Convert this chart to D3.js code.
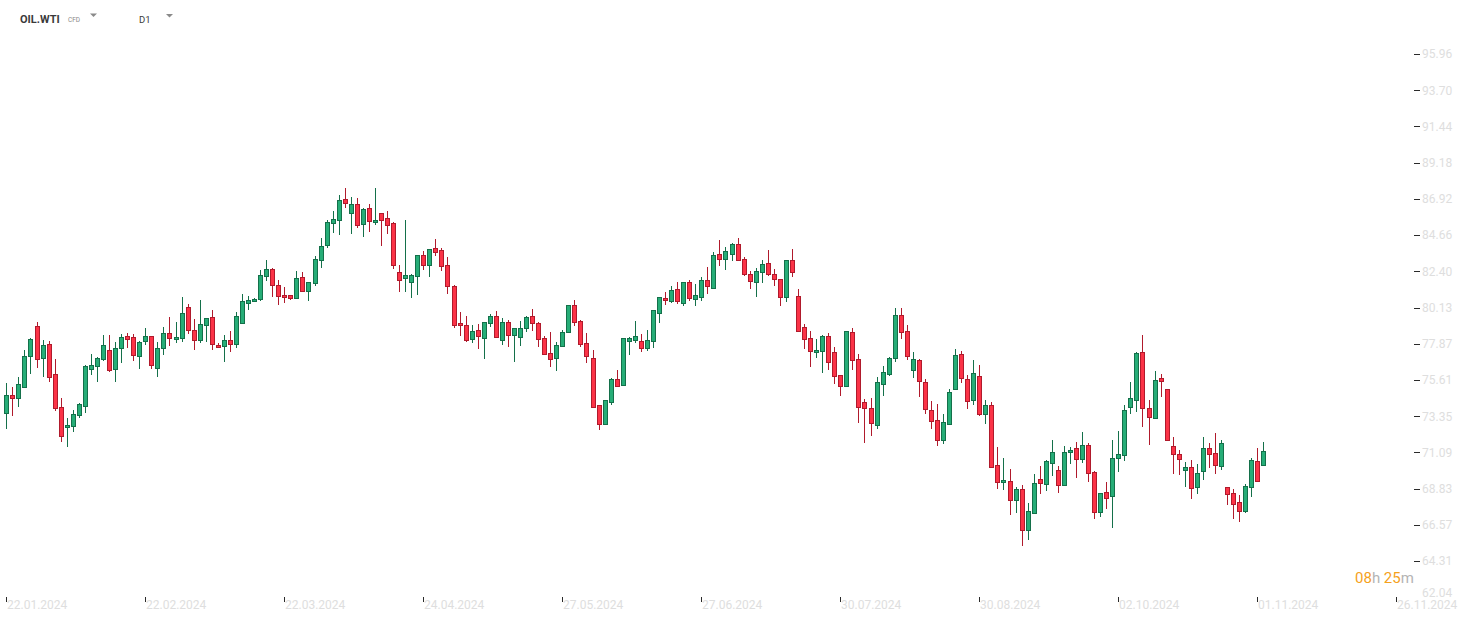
<!DOCTYPE html>
<html>
<head>
<meta charset="utf-8">
<script src="https://cdn.jsdelivr.net/npm/d3@7/dist/d3.min.js"></script>
<style>
  body { margin: 0; background: #fff; }
  svg { display: block; font-family: Roboto, "Noto Sans", sans-serif; }
</style>
</head>
<body>
<svg id="chart" width="1482" height="623"></svg>
<script>
// OIL.WTI daily candles
var opens = [73.53,74.65,74.47,75.19,77.09,78.96,76.96,77.84,75.97,73.91,72.66,72.72,73.41,73.97,76.32,76.46,76.94,77.46,76.28,77.59,
  78.34,78.27,77.09,78.02,78.34,76.34,77.60,78.53,78.14,78.22,80.15,78.72,78.10,79.03,79.53,77.78,77.72,78.10,77.85,79.16,
  80.40,80.53,80.65,82.09,82.53,81.53,80.90,80.90,80.72,82.03,81.15,81.65,83.09,84.02,85.40,85.58,86.89,86.02,86.58,85.33,
  86.33,85.46,86.02,85.71,85.40,82.34,81.96,81.71,82.09,83.40,82.78,83.84,83.71,82.78,81.47,79.16,79.03,78.15,78.71,78.21,
  79.15,79.58,78.09,79.21,78.40,78.27,78.83,79.58,79.15,78.21,77.27,76.96,77.71,78.58,80.27,79.27,77.90,76.96,74.03,72.84,
  74.22,75.65,75.28,78.02,78.09,78.02,77.59,78.02,79.77,80.71,80.52,81.27,80.39,81.70,80.64,80.77,81.83,81.33,83.45,83.14,
  83.45,84.08,83.14,82.20,81.70,82.33,82.89,82.20,81.90,80.77,83.08,80.83,78.90,78.21,77.34,77.40,78.34,77.34,75.90,75.22,
  78.59,76.90,74.22,73.85,72.79,75.34,75.97,76.97,79.65,78.65,76.22,76.84,75.47,73.72,73.10,71.85,72.85,75.03,77.22,75.66,
  74.34,75.84,73.47,74.03,70.29,69.23,69.29,68.10,68.79,66.23,67.29,69.42,69.10,70.41,69.98,69.04,71.10,71.35,70.66,71.53,
  69.85,67.35,68.60,68.35,70.72,70.91,73.90,74.34,77.34,73.84,73.22,75.71,75.03,71.47,70.97,69.97,70.16,68.91,69.91,71.35,
  71.03,70.22,68.91,68.54,67.98,67.41,68.91,70.53,70.29];
var highs = [75.40,75.15,75.78,77.46,78.21,79.21,78.11,78.02,76.90,74.47,73.26,73.74,74.16,76.55,77.23,77.03,78.42,78.42,78.00,78.48,
  78.52,78.48,78.05,78.84,78.36,77.96,78.93,79.55,79.22,80.80,80.34,79.41,80.61,79.49,79.97,77.91,78.41,78.68,79.84,80.99,
  80.84,80.72,82.48,83.11,82.59,81.86,81.42,80.92,82.42,82.36,81.74,83.36,84.46,85.60,86.14,87.16,87.60,87.02,86.96,86.33,
  86.58,87.60,86.04,86.14,85.46,82.78,85.58,82.21,83.42,83.67,83.79,84.40,83.84,83.27,81.53,79.84,79.59,79.02,79.08,79.23,
  79.71,79.89,79.46,79.33,78.85,79.27,79.58,80.02,79.21,78.33,78.58,77.96,78.71,80.29,80.58,79.33,78.52,77.46,74.05,74.36,
  75.71,76.21,78.23,78.27,79.27,78.46,78.71,79.98,80.79,81.08,81.45,81.70,81.72,81.83,81.58,82.02,82.64,83.58,84.33,83.89,
  84.14,84.45,83.26,82.39,82.58,83.08,83.70,82.52,81.92,83.10,83.77,81.27,79.09,78.65,78.15,78.40,78.53,77.65,75.92,78.67,
  78.84,77.22,74.41,74.47,75.78,76.47,77.03,80.09,80.09,79.03,77.34,76.90,75.66,74.28,74.10,73.47,75.03,77.53,77.40,75.91,
  76.84,76.53,74.35,74.22,71.41,70.73,70.04,68.92,69.04,67.92,69.73,70.23,70.60,71.85,70.23,71.47,71.41,71.72,72.35,71.66,
  69.91,68.56,69.22,71.85,72.41,74.03,75.46,77.34,78.40,74.34,76.15,75.96,75.05,72.03,71.22,70.47,70.60,70.35,72.03,71.66,
  72.28,71.85,68.93,68.79,68.41,69.10,70.72,71.35,71.72];
var lows = [72.53,73.36,73.95,75.13,76.01,76.38,75.82,75.51,73.70,71.76,71.41,72.39,73.22,73.53,75.90,75.51,76.82,76.09,75.51,76.65,
  77.59,76.82,76.32,77.77,76.32,75.82,77.14,77.76,77.89,78.01,78.51,77.51,77.95,78.01,77.51,77.64,76.76,77.33,77.58,79.14,
  79.99,80.51,80.51,81.80,80.82,80.28,80.40,80.59,80.70,81.13,80.51,81.49,82.59,83.82,84.81,84.65,86.33,84.71,85.08,84.52,
  84.83,85.27,84.00,84.71,82.53,81.09,81.09,80.72,80.90,82.46,82.03,83.34,82.40,80.97,78.84,78.37,77.97,77.90,77.52,76.90,
  78.90,78.21,77.77,77.65,76.71,77.71,78.58,78.65,77.65,77.19,76.40,76.15,77.69,78.52,78.96,77.65,76.65,73.88,72.47,72.78,
  74.03,75.19,75.21,77.19,77.90,77.34,77.40,77.59,79.15,80.27,80.39,80.33,80.21,80.52,80.21,80.52,80.96,81.31,82.70,82.45,
  83.01,83.06,82.08,81.27,80.77,81.64,82.08,81.45,80.21,80.46,82.02,78.59,77.53,76.40,76.97,76.03,76.22,75.34,74.59,75.16,
  76.22,72.95,71.66,72.14,72.58,74.59,75.84,76.72,78.15,76.84,75.72,74.53,73.47,72.54,71.47,71.60,72.83,75.01,75.41,73.78,
  74.03,73.35,72.85,70.10,68.79,68.73,67.17,67.29,65.23,65.61,67.23,68.48,68.67,69.60,68.54,69.02,70.35,69.48,70.41,69.22,
  66.92,67.04,67.54,66.35,69.85,70.53,73.47,73.59,72.66,71.53,73.20,74.53,71.83,69.72,69.66,68.91,68.16,68.48,69.35,70.10,
  69.72,69.97,67.79,66.92,66.73,67.29,68.29,69.27,70.22];
var closes = [74.65,74.47,75.34,77.09,78.15,76.90,77.77,75.78,73.84,72.10,72.78,73.47,74.09,76.49,76.53,76.96,77.77,76.21,77.59,78.27,
  78.15,77.15,78.00,78.34,76.53,77.59,78.53,78.22,78.28,79.78,78.72,78.10,79.09,79.47,77.85,77.66,78.10,77.85,79.59,80.53,
  80.59,80.65,82.15,82.53,81.53,80.84,80.78,80.72,81.96,81.15,81.71,83.15,83.96,85.46,85.65,86.83,86.64,86.58,85.27,86.27,
  85.52,85.58,85.58,85.27,82.78,81.84,82.15,82.15,83.40,82.78,83.77,83.59,82.71,81.47,79.03,79.03,78.10,78.65,78.33,79.21,
  79.58,78.27,79.21,78.40,78.83,78.83,79.52,79.15,78.15,77.21,76.90,77.77,78.58,80.27,79.21,77.84,77.09,73.90,72.84,74.34,
  75.65,75.21,78.21,78.21,78.33,77.59,78.09,79.96,80.77,80.58,81.21,80.52,81.70,80.71,80.89,81.83,81.45,83.39,83.14,83.64,
  84.08,83.08,82.20,81.77,82.39,82.83,82.20,81.89,80.77,83.08,82.33,78.65,78.15,77.40,77.46,78.34,76.72,75.84,75.22,78.65,
  76.84,73.91,73.85,72.91,75.47,76.09,76.97,79.65,78.59,77.09,76.90,75.53,73.78,73.03,71.85,72.97,74.84,77.15,75.72,74.28,
  76.03,73.47,74.03,70.16,69.23,69.35,68.10,68.79,66.23,67.42,69.17,69.17,70.54,71.10,69.04,71.10,71.22,70.66,71.54,69.79,
  67.35,68.54,68.23,70.72,70.97,73.72,74.47,77.27,73.84,73.28,75.59,75.53,71.85,70.97,70.66,70.16,68.85,69.79,71.35,70.97,
  70.29,71.66,68.48,67.85,67.41,68.98,70.60,69.29,71.16];

var priceTicks = [62.04,64.31,66.57,68.83,71.09,73.35,75.61,77.87,80.13,82.40,84.66,86.92,89.18,91.44,93.70,95.96];
var dateTickIdx = [0,23,46,69,92,115,138,161,184,207,230];
var dateTickLabels = ["22.01.2024","22.02.2024","22.03.2024","24.04.2024","27.05.2024","27.06.2024",
  "30.07.2024","30.08.2024","02.10.2024","01.11.2024","26.11.2024"];

var svg = d3.select("#chart");

var x = d3.scaleLinear().domain([0, 230]).range([6.3, 1396.3]);
var y = d3.scaleLinear().domain([64.31, 95.96]).range([561, 54]);

var upFill = "#26ad77", upLine = "#14704a";
var dnFill = "#fb3347", dnLine = "#b01a2c";

var candles = d3.range(opens.length).map(function (i) {
  return { i: i, o: opens[i], h: highs[i], l: lows[i], c: closes[i] };
});

var g = svg.append("g").attr("class", "candles");
var cg = g.selectAll("g").data(candles).enter().append("g");

cg.append("line")
  .attr("x1", function (d) { return Math.round(x(d.i)) + 0.5; })
  .attr("x2", function (d) { return Math.round(x(d.i)) + 0.5; })
  .attr("y1", function (d) { return Math.round(y(d.h)); })
  .attr("y2", function (d) { return Math.round(y(d.l)); })
  .attr("stroke", function (d) { return d.c >= d.o ? upLine : dnLine; })
  .attr("stroke-width", 1);

cg.append("rect")
  .attr("x", function (d) { return Math.round(x(d.i)) - 2 + 0.5; })
  .attr("width", 4)
  .attr("y", function (d) { return Math.round(y(Math.max(d.o, d.c))) + 0.5; })
  .attr("height", function (d) {
    return Math.max(1, Math.round(y(Math.min(d.o, d.c))) - Math.round(y(Math.max(d.o, d.c))));
  })
  .attr("fill", function (d) { return d.c >= d.o ? upFill : dnFill; })
  .attr("stroke", function (d) { return d.c >= d.o ? upLine : dnLine; })
  .attr("stroke-width", 1);

// right price axis
var ya = svg.append("g").attr("class", "y-axis");
priceTicks.forEach(function (v) {
  var py = y(v);
  var clamped = py > 593;
  if (!clamped) {
    ya.append("line").attr("x1", 1414).attr("x2", 1420)
      .attr("y1", Math.round(py) + 0.5).attr("y2", Math.round(py) + 0.5)
      .attr("stroke", "#2a2a2a").attr("stroke-width", 1);
  }
  ya.append("text")
    .attr("x", 1422).attr("y", Math.min(py, 593))
    .attr("dy", "0.36em")
    .attr("font-size", 12)
    .attr("fill", "#dedede")
    .text(v.toFixed(2));
});

// bottom date axis
var xa = svg.append("g").attr("class", "x-axis");
dateTickIdx.forEach(function (idx, k) {
  var px = Math.round(x(idx)) + 0.5;
  xa.append("line").attr("x1", px).attr("x2", px)
    .attr("y1", 597).attr("y2", 602)
    .attr("stroke", "#2a2a2a").attr("stroke-width", 1);
  xa.append("text")
    .attr("x", px + 0.5).attr("y", 609)
    .attr("font-size", 12)
    .attr("fill", "#dedede")
    .text(dateTickLabels[k]);
});

// candle countdown
var cd = svg.append("text").attr("x", 1355).attr("y", 583).attr("font-size", 15);
cd.append("tspan").attr("fill", "#f5a11c").text("08");
cd.append("tspan").attr("fill", "#b4b4b4").text("h ");
cd.append("tspan").attr("fill", "#f5a11c").text("25");
cd.append("tspan").attr("fill", "#b4b4b4").text("m");

// header
svg.append("text").attr("x", 20).attr("y", 23)
  .attr("font-size", 11).attr("font-weight", "bold").attr("fill", "#3a3a3a")
  .text("OIL.WTI");
svg.append("text").attr("x", 68).attr("y", 21.5)
  .attr("font-size", 6.5).attr("fill", "#8a8a8a").text("CFD");
svg.append("text").attr("x", 139).attr("y", 23)
  .attr("font-size", 9.5).attr("fill", "#3a3a3a").text("D1");
[[93.5, 13.5], [169.5, 14]].forEach(function (p) {
  svg.append("path")
    .attr("d", "M" + (p[0] - 3.5) + "," + p[1] + "L" + (p[0] + 3.5) + "," + p[1] + "L" + p[0] + "," + (p[1] + 3.5) + "Z")
    .attr("fill", "#8a8a8a");
});
</script>
</body>
</html>
